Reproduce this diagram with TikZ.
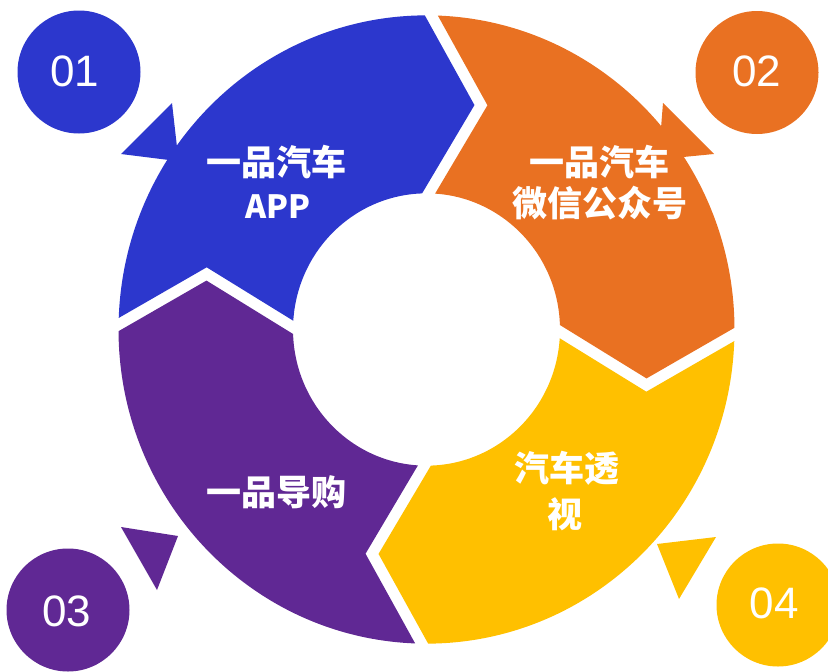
\documentclass[tikz,border=0pt]{standalone}
\usepackage{fontspec}
\setmainfont{Liberation Sans}
\newfontfamily\cjk{Noto Sans CJK SC}
\definecolor{cblue}{HTML}{2C37CD}
\definecolor{corange}{HTML}{E97122}
\definecolor{cyellow}{HTML}{FFC000}
\definecolor{cpurple}{HTML}{602894}
\tikzset{
  lbl/.style={text=white, font=\cjk\bfseries\fontsize{35}{40}\selectfont, inner sep=0pt},
  num/.style={text=white, font=\fontsize{44}{48}\selectfont, inner sep=0pt},
  badge/.style={circle, minimum size=123pt, inner sep=0pt}
}
\newcommand\segpath{(181.21:308) arc[start angle=181.21, end angle=268.79, radius=308] -- (44.5,-220.75) -- (267.21:133.5) arc[start angle=267.21, end angle=182.79, radius=133.5] -- (-220.75,-57.5) -- cycle}
\begin{document}
\begin{tikzpicture}[x=1pt,y=-1pt]
\useasboundingbox (0,0) rectangle (828,672);
% small pointer triangles
\fill[cblue] (121,154) -- (172,103) -- (178.6,161.2) -- cycle;
\fill[corange] (663,103) -- (714,154) -- (658.5,159.4) -- cycle;
\fill[cpurple] (121,527) -- (178,536) -- (157,590) -- cycle;
\fill[cyellow] (657,544) -- (716,537) -- (679,599) -- cycle;
% ring of arrows
\begin{scope}[shift={(426.5,329.5)}, yscale=1.02, rotate=-0.9]
  \fill[cblue] \segpath;
  \fill[corange, rotate=-90] \segpath;
  \fill[cyellow, rotate=-180] \segpath;
  \fill[cpurple, rotate=-270] \segpath;
\end{scope}
% badges
\node[badge, fill=cblue] (b1) at (79,72) {};
\node[badge, fill=corange] (b2) at (757,72.5) {};
\node[badge, fill=cpurple] (b3) at (68,610) {};
\node[badge, fill=cyellow] (b4) at (778,605) {};
\node[num] (n1) at (75,71) {01};
\node[num] (n2) at (757,71) {02};
\node[num] (n3) at (67,611) {03};
\node[num] (n4) at (774,603) {04};
% labels
\node[lbl] (l1a) at (276,162) {一品汽车};
\node[lbl, font=\cjk\bfseries\fontsize{32}{36}\selectfont] (l1b) at (278,207) {APP};
\node[lbl] (l2a) at (599,162) {一品汽车};
\node[lbl] (l2b) at (600,203) {微信公众号};
\node[lbl] (l3a) at (276,492) {一品导购};
\node[lbl] (l4a) at (567,468) {汽车透};
\node[lbl] (l4b) at (565,514) {视};
\end{tikzpicture}
\end{document}
